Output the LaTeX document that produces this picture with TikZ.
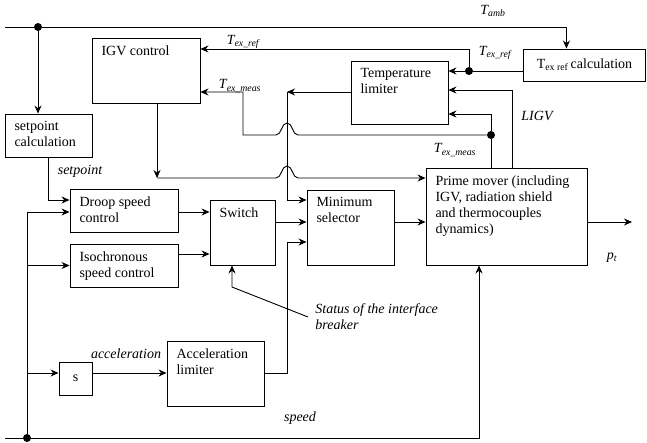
\documentclass[tikz,border=0pt]{standalone}
\usepackage{fontspec}
\setmainfont{Liberation Serif}
\usetikzlibrary{arrows.meta,positioning}

\begin{document}
\begin{tikzpicture}[x=1pt,y=-1pt,line width=0.9pt,>={Stealth[length=8pt,width=7pt]},
  every node/.style={font=\fontsize{14}{16}\selectfont},
  blk/.style={draw,rectangle,inner sep=0pt},
  txt/.style={anchor=north west,align=left,inner xsep=9.5pt,inner ysep=7.5pt},
  lbl/.style={font=\fontsize{14}{16}\selectfont\itshape,inner sep=0pt},
  dot/.style={fill=black,circle,inner sep=0pt,minimum size=8pt}]
  \useasboundingbox (0,0) rectangle (647,442);

  % blocks
  \node[blk,minimum width=87pt,minimum height=43pt,label={[txt]north west:setpoint\\calculation}] (spc) at (48.5,135.5) {};
  \node[blk,minimum width=108pt,minimum height=65pt,label={[txt]north west:IGV control}] (igv) at (146,70.5) {};
  \node[blk,minimum width=97pt,minimum height=63pt,label={[txt]north west:Temperature\\limiter}] (tl) at (399.5,92.5) {};
  \node[blk,minimum width=122pt,minimum height=32pt,anchor=west,align=left,inner xsep=9.5pt] (texc) at (523,65) {T\textsubscript{ex ref}\,calculation};
  \node[blk,minimum width=108pt,minimum height=43pt,label={[txt]north west:Droop speed\\control}] (droop) at (124,210.5) {};
  \node[blk,minimum width=108pt,minimum height=43pt,label={[txt]north west:Isochronous\\speed control}] (iso) at (124,265.5) {};
  \node[blk,minimum width=65pt,minimum height=65pt,label={[txt]north west:Switch}] (sw) at (242.5,232.5) {};
  \node[blk,minimum width=87pt,minimum height=75pt,label={[txt]north west:Minimum\\selector}] (min) at (350.5,227.5) {};
  \node[blk,minimum width=161pt,minimum height=97pt,label={[txt]north west:Prime mover (including\\IGV, radiation shield\\and thermocouples\\dynamics)}] (pm) at (506.5,216.5) {};
  \node[blk,minimum width=33pt,minimum height=33pt] (s) at (75.5,378.5) {s};
  \node[blk,minimum width=97pt,minimum height=65pt,label={[txt]north west:Acceleration\\limiter}] (acc) at (215.5,373.5) {};

  % junctions
  \node[dot] (dspc) at (38,27) {};
  \node[dot] (dspd) at (27,438) {};
  \node[dot] (dref) at (469,71) {};
  \node[dot] (dmeas) at (491,135) {};
  \coordinate (amb0) at (5,27);
  \coordinate (spd0) at (5,438);
  \coordinate (jm) at (287,92);
  \coordinate (ig) at (157,178);
  \coordinate (pout) at (632,222);
  \coordinate (brk) at (308,317);

  % ambient temperature
  \draw[->] (amb0) -- (dspc) -| ([xshift=-18pt]texc.north);
  \draw[->] (dspc) -- (dspc |- spc.north);
  \draw[->] (spc.south) |- (droop.west |- 0,200);

  % speed
  \draw[->] (spd0) -- (dspd) -| ([xshift=-27.5pt]pm.south);
  \draw[->] (dspd) |- (droop.west |- 0,212);
  \draw[->] (dspd |- iso.west) -- (iso.west);
  \draw[->] (dspd |- 0,373) -- (s.west |- 0,373);
  \draw[->] (s.east |- 0,373) -- (acc.west |- 0,373);

  % main path
  \draw[->] (droop.east |- 0,212) -- (sw.west |- 0,212);
  \draw[->] (iso.east |- 0,254) -- (sw.west |- 0,254);
  \draw[->] (sw.east |- 0,222) -- (min.west |- 0,222);
  \draw[->] (min.east |- 0,222) -- (pm.west |- 0,222);
  \draw[->] (pm.east |- pout) -- (pout);
  \draw[->] (acc.east |- 0,373) -| (jm |- 0,242) -- (min.west |- 0,242);
  \draw[->] (tl.west |- jm) -- (jm);
  \draw[->] (jm) |- (min.west |- 0,200);
  \draw[->] (brk) -- (232,287) -- (sw.south -| 232,0);

  % IGV control output
  \draw[->] (igv.south -| ig) -- (ig);
  \draw[->] (ig) -- (276,178) .. controls +(6,0) and +(-6,0) .. (287,166)
    .. controls +(6,0) and +(-6,0) .. (298,178) -- (pm.west |- ig);

  % exhaust temperature
  \draw[->] (texc.west |- dref) -- (dref) -- (tl.east |- dref);
  \draw[->] (dref) |- (igv.east |- 0,49);
  \draw[->] (pm.north -| 512,0) |- (tl.east |- 0,90);
  \draw[->] (pm.north -| dmeas) -- (dmeas) |- (tl.east |- 0,114);
  \draw[->] (dmeas) -- (298,135) .. controls +(-6,0) and +(6,0) .. (287,123)
    .. controls +(-6,0) and +(6,0) .. (276,135) -- (243,135) |- (igv.east |- 0,92);

  % signal labels
  \node[lbl] (tamb) at (493,11) {T\textsubscript{amb}};
  \node[lbl] (tref1) at (243,42) {T\textsubscript{ex\_ref}};
  \node[lbl] (tref2) at (495,53) {T\textsubscript{ex\_ref}};
  \node[lbl] (tmeas1) at (240,86) {T\textsubscript{ex\_meas}};
  \node[lbl] (tmeas2) at (455,150) {T\textsubscript{ex\_meas}};
  \node[lbl] (ligv) at (537,116) {LIGV};
  \node[lbl] (setp) at (80,171) {setpoint};
  \node[lbl] (accel) at (126,354) {acceleration};
  \node[lbl] (spd) at (300,418) {speed};
  \node[lbl] (ptl) at (612,258) {p\textsubscript{t}};
  \node[lbl,anchor=north west,align=left] (brkl) at (315,303) {Status of the interface\\breaker};
\end{tikzpicture}
\end{document}
